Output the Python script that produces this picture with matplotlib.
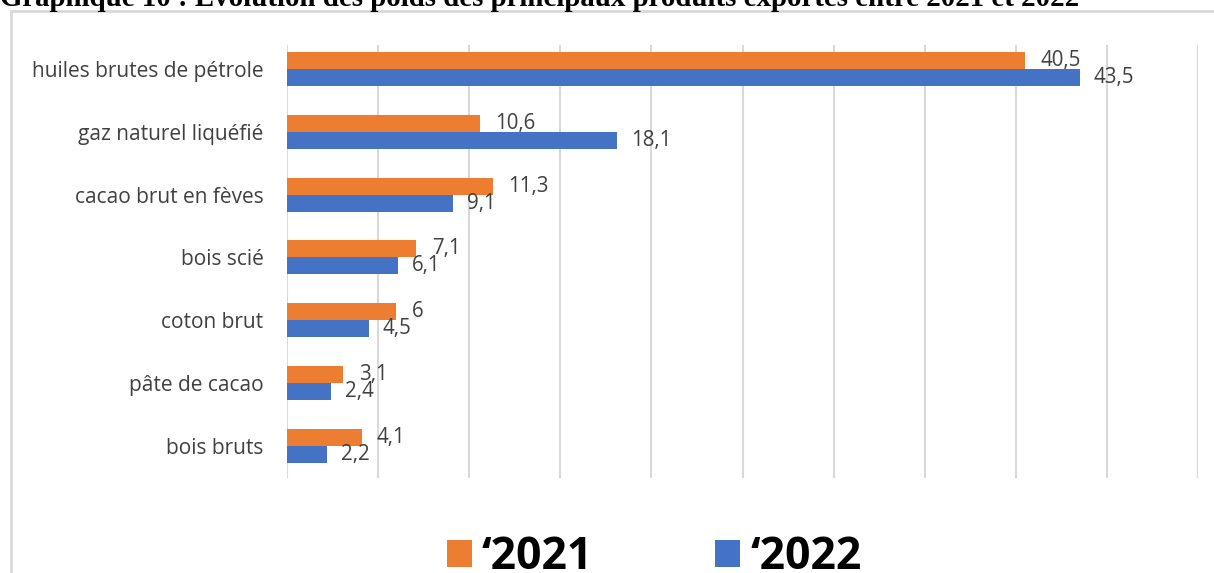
import numpy as np
import matplotlib.pyplot as plt
from matplotlib.patches import Rectangle

# poids des principaux produits exportés (%)
produits = ["huiles brutes de pétrole", "gaz naturel liquéfié", "cacao brut en fèves",
            "bois scié", "coton brut", "pâte de cacao", "bois bruts"]
poids_2021 = [40.5, 10.6, 11.3, 7.1, 6, 3.1, 4.1]
poids_2022 = [43.5, 18.1, 9.1, 6.1, 4.5, 2.4, 2.2]
label_2021 = "‘2021"
label_2022 = "‘2022"

ORANGE = "#ED7D31"
BLUE = "#4472C4"
GRID = "#d9d9d9"
TXT = "#404040"

fig = plt.figure(figsize=(12.14, 5.73), dpi=100)
W, H = 1214, 573

# titre (coupé en haut)
fig.text(0, 1 - 6 / H, "Graphique 10 : Evolution des poids des principaux produits exportés entre 2021 et 2022",
         family="Liberation Serif", fontweight="bold", fontsize=20.8, ha="left", va="baseline")

# cadre du graphique
fig.add_artist(Rectangle((11 / W, -0.05), 1.2, 1 - 11 / H + 0.05, transform=fig.transFigure,
                         fill=False, edgecolor=GRID, linewidth=2))

ax = fig.add_axes([287 / W, 1 - 478 / H, (1198 - 287) / W, (478 - 45) / H])
y = np.arange(len(produits))
h = 0.27
ax.barh(y - h / 2, poids_2021, height=h, color=ORANGE, label=label_2021, zorder=3)
ax.barh(y + h / 2, poids_2022, height=h, color=BLUE, label=label_2022, zorder=3)

for yi, v in zip(y, poids_2021):
    ax.annotate(f"{v:g}".replace(".", ","), (v, yi - h / 2), xytext=(11, 0), textcoords="offset points",
                va="center", ha="left", fontsize=14.8, color=TXT, family="Open Sans")
for yi, v in zip(y, poids_2022):
    ax.annotate(f"{v:g}".replace(".", ","), (v, yi + h / 2), xytext=(10, 0), textcoords="offset points",
                va="center", ha="left", fontsize=14.8, color=TXT, family="Open Sans")

ax.set_xlim(0, 50)
ax.set_ylim(6.51, -0.38)
ax.set_xticks(np.arange(0, 51, 5))
ax.set_xticklabels([])
ax.grid(axis="x", color=GRID, linewidth=1.5, zorder=0)
ax.tick_params(length=0)
ax.set_yticks(y)
ax.set_yticklabels(produits, fontsize=15, color=TXT, family="Open Sans")
ax.tick_params(axis="y", pad=17)
for s in ax.spines.values():
    s.set_visible(False)

leg = fig.legend(loc="center", bbox_to_anchor=(0.5387, 1 - 557.5 / H), ncol=2, borderaxespad=0,
                 prop={"family": "Open Sans", "weight": "bold", "size": 32},
                 frameon=False, handlelength=0.56, handleheight=0.56, columnspacing=2.75, handletextpad=0.225)

fig.savefig("out.png", dpi=100)
